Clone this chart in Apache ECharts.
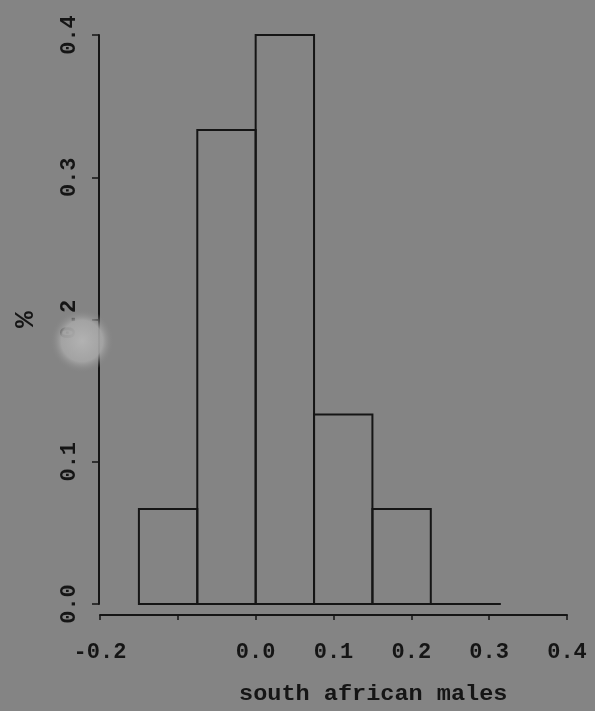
<!DOCTYPE html>
<html>
<head>
<meta charset="utf-8">
<script src="https://cdn.jsdelivr.net/npm/echarts@6/dist/echarts.min.js"></script>
<style>
  html, body { margin: 0; padding: 0; background: #848484; }
  #chart { width: 595px; height: 711px; }
</style>
</head>
<body>
<div id="chart"></div>
<script>
// Histogram of south african males: bin edges and share of observations per bin
const binEdges = [-0.15, -0.075, 0, 0.075, 0.15, 0.225];
const binShares = [0.0667, 0.3333, 0.4, 0.1333, 0.0667];
// baseline drawn under the bars (runs on through the empty bin)
const baselineSpan = [-0.15, 0.315];
const xTicks = [-0.2, -0.1, 0.0, 0.1, 0.2, 0.3, 0.4];
const xHiddenLabels = [-0.1];
const yTicks = [0.0, 0.1, 0.2, 0.3, 0.4];
const xTitle = 'south african males';
const yTitle = '%';

const ink = '#151515';
const font = '"Liberation Mono", "DejaVu Sans Mono", monospace';

const bins = binShares.map((s, i) => [binEdges[i], binEdges[i + 1], s]);

const chart = echarts.init(document.getElementById('chart'), null, { renderer: 'canvas' });

chart.setOption({
  backgroundColor: '#848484',
  animation: false,
  grid: { left: 100, right: 28, top: 35, bottom: 107 },
  xAxis: {
    type: 'value',
    min: xTicks[0],
    max: xTicks[xTicks.length - 1],
    interval: 0.1,
    offset: 11,
    splitLine: { show: false },
    axisLine: { show: true, onZero: false, lineStyle: { color: ink, width: 2 } },
    axisTick: { show: true, length: 5, lineStyle: { color: ink, width: 1.5 } },
    axisLabel: {
      margin: 26,
      color: ink,
      fontFamily: font,
      fontWeight: 'bold',
      fontSize: 22,
      formatter: v => {
        const r = Math.round(v * 10) / 10;
        return xHiddenLabels.includes(r) ? '' : r.toFixed(1);
      }
    }
  },
  yAxis: {
    type: 'value',
    min: yTicks[0],
    max: yTicks[yTicks.length - 1],
    interval: 0.1,
    offset: 1,
    name: yTitle,
    nameLocation: 'middle',
    nameGap: 59,
    nameRotate: 90,
    nameTextStyle: { color: ink, fontFamily: font, fontWeight: 'bold', fontSize: 28 },
    splitLine: { show: false },
    axisLine: { show: true, onZero: false, lineStyle: { color: ink, width: 2 } },
    axisTick: { show: true, length: 7, lineStyle: { color: ink, width: 1.5 } },
    axisLabel: {
      rotate: 90,
      margin: 19,
      color: ink,
      fontFamily: font,
      fontWeight: 'bold',
      fontSize: 22,
      formatter: v => v.toFixed(1)
    }
  },
  series: [
    {
      type: 'custom',
      data: bins,
      renderItem: (params, api) => {
        const p0 = api.coord([api.value(0), api.value(2)]);
        const p1 = api.coord([api.value(1), 0]);
        return {
          type: 'rect',
          shape: { x: p0[0], y: p0[1], width: p1[0] - p0[0], height: p1[1] - p0[1] },
          style: { fill: 'none', stroke: ink, lineWidth: 2 }
        };
      },
      encode: { x: [0, 1], y: 2 },
      z: 3
    },
    {
      type: 'line',
      data: baselineSpan.map(x => [x, 0]),
      symbol: 'none',
      lineStyle: { color: ink, width: 2 },
      z: 2
    }
  ],
  graphic: [
    {
      // pale smudge over the left axis
      type: 'circle',
      shape: { cx: 82, cy: 341, r: 32 },
      style: {
        fill: {
          type: 'radial', x: 0.5, y: 0.5, r: 0.5,
          colorStops: [
            { offset: 0, color: 'rgba(178,178,178,1)' },
            { offset: 0.65, color: 'rgba(166,166,166,0.9)' },
            { offset: 1, color: 'rgba(132,132,132,0)' }
          ]
        }
      },
      z: 100
    },
    {
      type: 'text',
      x: 239,
      y: 683,
      scaleX: 1.07,
      style: {
        text: xTitle,
        fill: ink,
        font: 'bold 22px ' + font
      }
    }
  ]
});
</script>
</body>
</html>
